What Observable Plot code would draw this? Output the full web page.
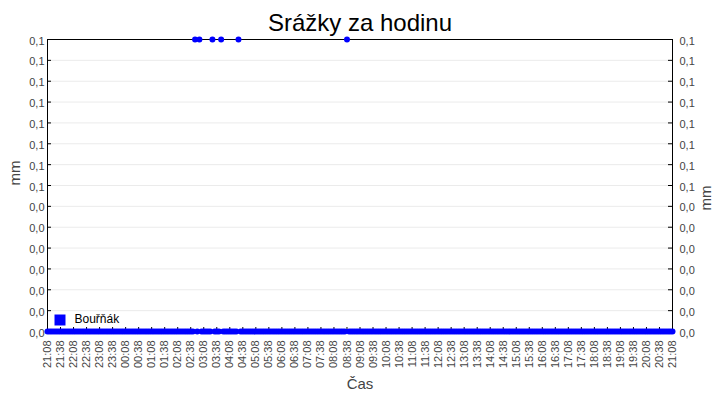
<!DOCTYPE html>
<html>
<head>
<meta charset="utf-8">
<script src="https://cdn.jsdelivr.net/npm/d3@7"></script>
<script src="https://cdn.jsdelivr.net/npm/@observablehq/plot@0.6"></script>
<style>
  html, body { margin: 0; padding: 0; background: #fff; }
  #chart { width: 720px; height: 400px; }
</style>
</head>
<body>
<div id="chart"></div>
<script>
// ---- data ----
const title = "Srážky za hodinu";
const yLabel = "mm";
const xLabel = "Čas";
const seriesName = "Bouřňák";
const seriesColor = "#0000ff";

const startDay = "2024-01-01";
const startClock = "21:08";
const sampleStepMinutes = 5;

// hourly precipitation (mm), one reading every 5 minutes from 21:08 to 21:08 (one row per hour)
const values = [
  0, 0, 0, 0, 0, 0, 0, 0, 0, 0, 0, 0,
  0, 0, 0, 0, 0, 0, 0, 0, 0, 0, 0, 0,
  0, 0, 0, 0, 0, 0, 0, 0, 0, 0, 0, 0,
  0, 0, 0, 0, 0, 0, 0, 0, 0, 0, 0, 0,
  0, 0, 0, 0, 0, 0, 0, 0, 0, 0, 0, 0,
  0, 0, 0, 0, 0, 0, 0, 0, 0.1, 0, 0.1, 0,
  0, 0, 0, 0, 0.1, 0, 0, 0, 0.1, 0, 0, 0,
  0, 0, 0, 0, 0.1, 0, 0, 0, 0, 0, 0, 0,
  0, 0, 0, 0, 0, 0, 0, 0, 0, 0, 0, 0,
  0, 0, 0, 0, 0, 0, 0, 0, 0, 0, 0, 0,
  0, 0, 0, 0, 0, 0, 0, 0, 0, 0, 0, 0,
  0, 0, 0, 0, 0, 0, 0.1, 0, 0, 0, 0, 0,
  0, 0, 0, 0, 0, 0, 0, 0, 0, 0, 0, 0,
  0, 0, 0, 0, 0, 0, 0, 0, 0, 0, 0, 0,
  0, 0, 0, 0, 0, 0, 0, 0, 0, 0, 0, 0,
  0, 0, 0, 0, 0, 0, 0, 0, 0, 0, 0, 0,
  0, 0, 0, 0, 0, 0, 0, 0, 0, 0, 0, 0,
  0, 0, 0, 0, 0, 0, 0, 0, 0, 0, 0, 0,
  0, 0, 0, 0, 0, 0, 0, 0, 0, 0, 0, 0,
  0, 0, 0, 0, 0, 0, 0, 0, 0, 0, 0, 0,
  0, 0, 0, 0, 0, 0, 0, 0, 0, 0, 0, 0,
  0, 0, 0, 0, 0, 0, 0, 0, 0, 0, 0, 0,
  0, 0, 0, 0, 0, 0, 0, 0, 0, 0, 0, 0,
  0, 0, 0, 0, 0, 0, 0, 0, 0, 0, 0, 0,
  0
];

const xTickLabels = ["21:08","21:38","22:08","22:38","23:08","23:38","00:08","00:38","01:08","01:38",
  "02:08","02:38","03:08","03:38","04:08","04:38","05:08","05:38","06:08","06:38","07:08","07:38",
  "08:08","08:38","09:08","09:38","10:08","10:38","11:08","11:38","12:08","12:38","13:08","13:38",
  "14:08","14:38","15:08","15:38","16:08","16:38","17:08","17:38","18:08","18:38","19:08","19:38",
  "20:08","20:38","21:08"];

const yTicks = [0, 0.00714, 0.01429, 0.02143, 0.02857, 0.03571, 0.04286, 0.05,
  0.05714, 0.06429, 0.07143, 0.07857, 0.08571, 0.09286, 0.1];
const yTickLabels = ["0,0","0,0","0,0","0,0","0,0","0,0","0,0","0,1",
  "0,1","0,1","0,1","0,1","0,1","0,1","0,1"];
const yDomain = [0, 0.1];

// ---- build ----
const t0 = new Date(`${startDay}T${startClock}:00Z`);
const data = values.map((v, i) => ({time: new Date(+t0 + i * sampleStepMinutes * 60000), value: v}));

let dayOffset = 0, prevMin = -1;
const xTicks = xTickLabels.map(s => {
  const [h, m] = s.split(":").map(Number);
  const mins = h * 60 + m;
  if (mins <= prevMin) dayOffset += 1;
  prevMin = mins;
  const d = new Date(`${startDay}T00:00:00Z`);
  return {date: new Date(+d + (dayOffset * 1440 + mins) * 60000), label: s};
});
const xDomain = [xTicks[0].date, xTicks[xTicks.length - 1].date];
const yLabelOf = d => yTickLabels[yTicks.indexOf(d)];

const font = "'Liberation Sans', Arial, sans-serif";
const textGray = "#444";

const chart = Plot.plot({
  width: 720,
  height: 400,
  marginLeft: 47,
  marginRight: 48,
  marginTop: 39,
  marginBottom: 69,
  style: {fontFamily: font, background: "#fff", overflow: "visible"},
  x: {type: "utc", domain: xDomain, axis: null},
  y: {domain: yDomain, axis: null},
  marks: [
    Plot.ruleY(yTicks.slice(1, -1), {stroke: "#ebebeb", strokeWidth: 1}),
    Plot.frame({stroke: "#000", strokeWidth: 1}),
    // inward tick marks
    Plot.ruleY(yTicks, {y: d => d, x1: xDomain[0], x2: xDomain[0], insetRight: -4, stroke: "#000"}),
    Plot.ruleY(yTicks, {y: d => d, x1: xDomain[1], x2: xDomain[1], insetLeft: -4, stroke: "#000"}),
    Plot.ruleX(xTicks, {x: "date", y1: 0, y2: 0, insetTop: -4, stroke: "#000"}),
    // tick labels
    Plot.text(yTicks, {y: d => d, frameAnchor: "left", textAnchor: "end", lineAnchor: "middle",
      dx: -3, dy: 1.5, text: yLabelOf, fontSize: 11, fill: textGray}),
    Plot.text(yTicks, {y: d => d, frameAnchor: "right", textAnchor: "start", lineAnchor: "middle",
      dx: 7, dy: 1.5, text: yLabelOf, fontSize: 11, fill: textGray}),
    Plot.text(xTicks, {x: "date", frameAnchor: "bottom", rotate: -90, textAnchor: "end",
      lineAnchor: "middle", dy: 9, text: "label", fontSize: 11, fill: textGray}),
    // titles
    Plot.text([title], {frameAnchor: "top", lineAnchor: "middle", dy: -16, fontSize: 24, fill: "#000"}),
    Plot.text([yLabel], {frameAnchor: "left", lineAnchor: "middle", rotate: -90, dx: -32, fontSize: 15, fill: textGray}),
    Plot.text([yLabel], {frameAnchor: "right", lineAnchor: "middle", rotate: -90, dx: 34, fontSize: 15, fill: textGray}),
    Plot.text([xLabel], {frameAnchor: "bottom", lineAnchor: "middle", dy: 53, fontSize: 15, fill: textGray}),
    // data
    Plot.dot(data, {x: "time", y: "value", r: 3, fill: seriesColor, stroke: "none"}),
    // legend
    Plot.dot([seriesName], {frameAnchor: "bottom-left", dx: 12.5, dy: -11.5, symbol: "square",
      r: 6.2, fill: seriesColor, stroke: "none"}),
    Plot.text([seriesName], {frameAnchor: "bottom-left", lineAnchor: "middle", dx: 27, dy: -12,
      textAnchor: "start", fontSize: 12, fill: "#000"})
  ]
});
document.getElementById("chart").appendChild(chart);
</script>
</body>
</html>
